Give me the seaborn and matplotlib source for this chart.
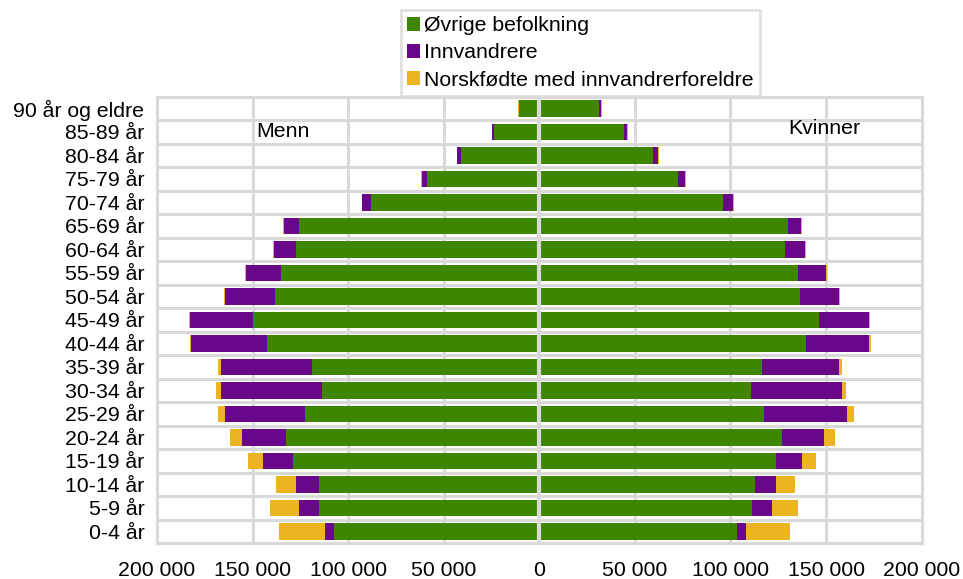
import matplotlib
matplotlib.use("Agg")
import matplotlib.pyplot as plt
import matplotlib.ticker as mticker
from matplotlib.patches import Patch
import numpy as np
import pandas as pd
import seaborn as sns

ages = ["90 år og eldre", "85-89 år", "80-84 år", "75-79 år", "70-74 år",
        "65-69 år", "60-64 år", "55-59 år", "50-54 år", "45-49 år",
        "40-44 år", "35-39 år", "30-34 år", "25-29 år", "20-24 år",
        "15-19 år", "10-14 år", "5-9 år", "0-4 år"]

# Menn
men_ovrige = [10500, 23800, 41100, 58900, 87900, 125900, 127500, 135300, 138300, 150000,
              142700, 119100, 113900, 122300, 132700, 128900, 115400, 115400, 107600]
men_innv = [300, 700, 1700, 2500, 4700, 7900, 11500, 18000, 26000, 32600,
            39600, 47500, 52700, 41900, 23000, 15400, 12000, 10500, 4400]
men_norskf = [300, 400, 300, 300, 400, 400, 400, 500, 500, 500,
              600, 1700, 2300, 3700, 6300, 8000, 10500, 14800, 24400]

# Kvinner
kv_ovrige = [31300, 44400, 59600, 72800, 96200, 130100, 128700, 135300, 136400, 146300,
             139700, 116300, 110700, 117700, 127000, 124000, 113000, 111400, 103600]
kv_innv = [1000, 1600, 2300, 3300, 5100, 7000, 10300, 14700, 20600, 26200,
           33000, 40700, 47800, 43300, 22100, 13400, 11000, 10500, 4700]
kv_norskf = [300, 300, 500, 400, 400, 500, 500, 500, 500, 500,
             700, 1400, 1900, 3700, 5800, 7300, 9900, 13600, 23000]

series = ["Øvrige befolkning", "Innvandrere", "Norskfødte med innvandrerforeldre"]
colors = ["#3e8500", "#6a0689", "#ecb421"]
grid_c = "#d9d9d9"
FS = 15.3

sns.set_style("white")
plt.rcParams["font.family"] = ["Liberation Sans", "DejaVu Sans"]
plt.rcParams["text.color"] = "black"

fig, ax = plt.subplots(figsize=(9.63, 5.79), dpi=100)
fig.subplots_adjust(left=0.163, right=0.957, top=0.833, bottom=0.062)

def cum(a, b, c, sign):
    a, b, c = np.array(a), np.array(b), np.array(c)
    return [sign * (a + b + c), sign * (a + b), sign * a]

layers = list(zip(cum(men_ovrige, men_innv, men_norskf, -1),
                  cum(kv_ovrige, kv_innv, kv_norskf, 1)))
layer_colors = [colors[2], colors[1], colors[0]]

for (m, k), col in zip(layers, layer_colors):
    for vals in (m, k):
        df = pd.DataFrame({"age": ages, "value": vals})
        sns.barplot(data=df, x="value", y="age", orient="h", order=ages,
                    color=col, saturation=1, errorbar=None, width=0.7,
                    linewidth=0, ax=ax, zorder=3)

ax.set_xlim(-200000, 200000)
ax.set_ylim(len(ages) - 0.5, -0.5)
ax.xaxis.set_major_locator(mticker.MultipleLocator(50000))
ax.xaxis.set_major_formatter(mticker.FuncFormatter(
    lambda v, p: f"{abs(int(round(v))):,}".replace(",", " ")))
ax.set_yticks(np.arange(-0.5, len(ages)), minor=True)
ax.grid(True, axis="x", which="major", color=grid_c, lw=2.2, zorder=0)
ax.grid(True, axis="y", which="minor", color=grid_c, lw=2.2, zorder=0)
ax.grid(False, axis="y", which="major")
ax.set_axisbelow(True)
ax.axvline(0, color=grid_c, lw=3, zorder=5)
ax.tick_params(axis="both", which="both", length=0, labelsize=FS, colors="black")
ax.tick_params(axis="x", pad=13)
ax.tick_params(axis="y", pad=9)
ax.set_xlabel("")
ax.set_ylabel("")
for s in ax.spines.values():
    s.set_color(grid_c)
    s.set_linewidth(2.2)

ax.text(-148000, 1, "Menn", ha="left", va="center", fontsize=FS, color="black")
ax.text(130000, 0.85, "Kvinner", ha="left", va="center", fontsize=FS, color="black")

handles = [Patch(facecolor=c, edgecolor="none", label=l) for c, l in zip(colors, series)]
leg = fig.legend(handles=handles, loc="upper left", bbox_to_anchor=(401 / 963, 1 - 10 / 579),
                 frameon=True, fancybox=False, fontsize=FS, handlelength=0.6,
                 handleheight=0.6, handletextpad=0.2, labelspacing=0.38,
                 borderpad=0.3, borderaxespad=0)
leg.get_frame().set_edgecolor(grid_c)
leg.get_frame().set_linewidth(2)

fig.savefig("out.png", dpi=100)
